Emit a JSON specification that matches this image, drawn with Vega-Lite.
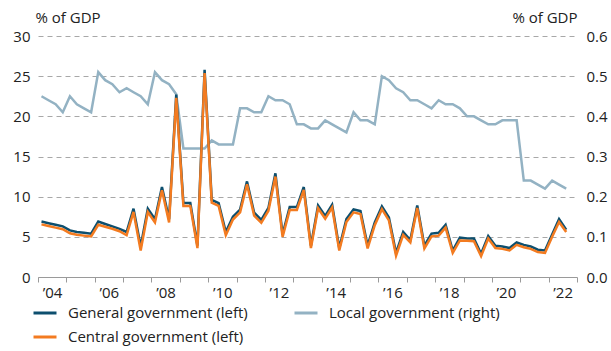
{
  "$schema": "https://vega.github.io/schema/vega-lite/v6.json",
  "width": 539,
  "height": 241,
  "autosize": {"type": "none"},
  "padding": {"left": 38, "top": 36, "right": 34, "bottom": 74},
  "background": "white",
  "config": {
    "view": {"stroke": null},
    "font": "Open Sans",
    "axis": {"labelFont": "Open Sans", "titleFont": "Open Sans", "labelFontSize": 15, "titleFontSize": 15, "labelColor": "#222222", "titleColor": "#222222", "titleFontWeight": "normal"},
    "legend": {"labelFont": "Open Sans", "labelFontSize": 15, "labelColor": "#222222", "labelLimit": 0}
  },
  "data": {"values": [
    {"date":"2004-02-15","series":"General government (left)","value":6.9},
    {"date":"2004-05-15","series":"General government (left)","value":6.7},
    {"date":"2004-08-15","series":"General government (left)","value":6.5},
    {"date":"2004-11-15","series":"General government (left)","value":6.3},
    {"date":"2005-02-15","series":"General government (left)","value":5.8},
    {"date":"2005-05-15","series":"General government (left)","value":5.6},
    {"date":"2005-08-15","series":"General government (left)","value":5.5},
    {"date":"2005-11-15","series":"General government (left)","value":5.4},
    {"date":"2006-02-15","series":"General government (left)","value":6.9},
    {"date":"2006-05-15","series":"General government (left)","value":6.6},
    {"date":"2006-08-15","series":"General government (left)","value":6.3},
    {"date":"2006-11-15","series":"General government (left)","value":6.0},
    {"date":"2007-02-15","series":"General government (left)","value":5.6},
    {"date":"2007-05-15","series":"General government (left)","value":8.5},
    {"date":"2007-08-15","series":"General government (left)","value":3.8},
    {"date":"2007-11-15","series":"General government (left)","value":8.5},
    {"date":"2008-02-15","series":"General government (left)","value":7.2},
    {"date":"2008-05-15","series":"General government (left)","value":11.2},
    {"date":"2008-08-15","series":"General government (left)","value":7.2},
    {"date":"2008-11-15","series":"General government (left)","value":22.7},
    {"date":"2009-02-15","series":"General government (left)","value":9.2},
    {"date":"2009-05-15","series":"General government (left)","value":9.2},
    {"date":"2009-08-15","series":"General government (left)","value":3.9},
    {"date":"2009-11-15","series":"General government (left)","value":25.8},
    {"date":"2010-02-15","series":"General government (left)","value":9.6},
    {"date":"2010-05-15","series":"General government (left)","value":9.2},
    {"date":"2010-08-15","series":"General government (left)","value":5.6},
    {"date":"2010-11-15","series":"General government (left)","value":7.5},
    {"date":"2011-02-15","series":"General government (left)","value":8.4},
    {"date":"2011-05-15","series":"General government (left)","value":11.9},
    {"date":"2011-08-15","series":"General government (left)","value":8.0},
    {"date":"2011-11-15","series":"General government (left)","value":7.1},
    {"date":"2012-02-15","series":"General government (left)","value":8.6},
    {"date":"2012-05-15","series":"General government (left)","value":12.9},
    {"date":"2012-08-15","series":"General government (left)","value":5.3},
    {"date":"2012-11-15","series":"General government (left)","value":8.7},
    {"date":"2013-02-15","series":"General government (left)","value":8.7},
    {"date":"2013-05-15","series":"General government (left)","value":11.2},
    {"date":"2013-08-15","series":"General government (left)","value":3.9},
    {"date":"2013-11-15","series":"General government (left)","value":8.9},
    {"date":"2014-02-15","series":"General government (left)","value":7.6},
    {"date":"2014-05-15","series":"General government (left)","value":9.0},
    {"date":"2014-08-15","series":"General government (left)","value":3.6},
    {"date":"2014-11-15","series":"General government (left)","value":7.2},
    {"date":"2015-02-15","series":"General government (left)","value":8.4},
    {"date":"2015-05-15","series":"General government (left)","value":8.2},
    {"date":"2015-08-15","series":"General government (left)","value":3.9},
    {"date":"2015-11-15","series":"General government (left)","value":6.8},
    {"date":"2016-02-15","series":"General government (left)","value":8.8},
    {"date":"2016-05-15","series":"General government (left)","value":7.4},
    {"date":"2016-08-15","series":"General government (left)","value":3.0},
    {"date":"2016-11-15","series":"General government (left)","value":5.6},
    {"date":"2017-02-15","series":"General government (left)","value":4.6},
    {"date":"2017-05-15","series":"General government (left)","value":8.9},
    {"date":"2017-08-15","series":"General government (left)","value":3.9},
    {"date":"2017-11-15","series":"General government (left)","value":5.4},
    {"date":"2018-02-15","series":"General government (left)","value":5.5},
    {"date":"2018-05-15","series":"General government (left)","value":6.5},
    {"date":"2018-08-15","series":"General government (left)","value":3.3},
    {"date":"2018-11-15","series":"General government (left)","value":4.9},
    {"date":"2019-02-15","series":"General government (left)","value":4.8},
    {"date":"2019-05-15","series":"General government (left)","value":4.8},
    {"date":"2019-08-15","series":"General government (left)","value":2.9},
    {"date":"2019-11-15","series":"General government (left)","value":5.1},
    {"date":"2020-02-15","series":"General government (left)","value":3.9},
    {"date":"2020-05-15","series":"General government (left)","value":3.8},
    {"date":"2020-08-15","series":"General government (left)","value":3.6},
    {"date":"2020-11-15","series":"General government (left)","value":4.3},
    {"date":"2021-02-15","series":"General government (left)","value":4.0},
    {"date":"2021-05-15","series":"General government (left)","value":3.8},
    {"date":"2021-08-15","series":"General government (left)","value":3.4},
    {"date":"2021-11-15","series":"General government (left)","value":3.3},
    {"date":"2022-02-15","series":"General government (left)","value":5.3},
    {"date":"2022-05-15","series":"General government (left)","value":7.2},
    {"date":"2022-08-15","series":"General government (left)","value":5.9},
    {"date":"2004-02-15","series":"Central government (left)","value":6.55},
    {"date":"2004-05-15","series":"Central government (left)","value":6.35},
    {"date":"2004-08-15","series":"Central government (left)","value":6.15},
    {"date":"2004-11-15","series":"Central government (left)","value":5.95},
    {"date":"2005-02-15","series":"Central government (left)","value":5.45},
    {"date":"2005-05-15","series":"Central government (left)","value":5.25},
    {"date":"2005-08-15","series":"Central government (left)","value":5.15},
    {"date":"2005-11-15","series":"Central government (left)","value":5.05},
    {"date":"2006-02-15","series":"Central government (left)","value":6.5},
    {"date":"2006-05-15","series":"Central government (left)","value":6.25},
    {"date":"2006-08-15","series":"Central government (left)","value":6.0},
    {"date":"2006-11-15","series":"Central government (left)","value":5.7},
    {"date":"2007-02-15","series":"Central government (left)","value":5.2},
    {"date":"2007-05-15","series":"Central government (left)","value":8.1},
    {"date":"2007-08-15","series":"Central government (left)","value":3.3},
    {"date":"2007-11-15","series":"Central government (left)","value":8.1},
    {"date":"2008-02-15","series":"Central government (left)","value":6.8},
    {"date":"2008-05-15","series":"Central government (left)","value":10.8},
    {"date":"2008-08-15","series":"Central government (left)","value":6.8},
    {"date":"2008-11-15","series":"Central government (left)","value":22.3},
    {"date":"2009-02-15","series":"Central government (left)","value":8.85},
    {"date":"2009-05-15","series":"Central government (left)","value":8.85},
    {"date":"2009-08-15","series":"Central government (left)","value":3.6},
    {"date":"2009-11-15","series":"Central government (left)","value":25.4},
    {"date":"2010-02-15","series":"Central government (left)","value":9.25},
    {"date":"2010-05-15","series":"Central government (left)","value":8.85},
    {"date":"2010-08-15","series":"Central government (left)","value":5.2},
    {"date":"2010-11-15","series":"Central government (left)","value":7.15},
    {"date":"2011-02-15","series":"Central government (left)","value":8.05},
    {"date":"2011-05-15","series":"Central government (left)","value":11.55},
    {"date":"2011-08-15","series":"Central government (left)","value":7.65},
    {"date":"2011-11-15","series":"Central government (left)","value":6.75},
    {"date":"2012-02-15","series":"Central government (left)","value":8.25},
    {"date":"2012-05-15","series":"Central government (left)","value":12.5},
    {"date":"2012-08-15","series":"Central government (left)","value":5.0},
    {"date":"2012-11-15","series":"Central government (left)","value":8.35},
    {"date":"2013-02-15","series":"Central government (left)","value":8.35},
    {"date":"2013-05-15","series":"Central government (left)","value":10.85},
    {"date":"2013-08-15","series":"Central government (left)","value":3.6},
    {"date":"2013-11-15","series":"Central government (left)","value":8.55},
    {"date":"2014-02-15","series":"Central government (left)","value":7.25},
    {"date":"2014-05-15","series":"Central government (left)","value":8.65},
    {"date":"2014-08-15","series":"Central government (left)","value":3.3},
    {"date":"2014-11-15","series":"Central government (left)","value":6.85},
    {"date":"2015-02-15","series":"Central government (left)","value":8.05},
    {"date":"2015-05-15","series":"Central government (left)","value":7.85},
    {"date":"2015-08-15","series":"Central government (left)","value":3.55},
    {"date":"2015-11-15","series":"Central government (left)","value":6.45},
    {"date":"2016-02-15","series":"Central government (left)","value":8.45},
    {"date":"2016-05-15","series":"Central government (left)","value":7.05},
    {"date":"2016-08-15","series":"Central government (left)","value":2.65},
    {"date":"2016-11-15","series":"Central government (left)","value":5.25},
    {"date":"2017-02-15","series":"Central government (left)","value":4.3},
    {"date":"2017-05-15","series":"Central government (left)","value":8.6},
    {"date":"2017-08-15","series":"Central government (left)","value":3.55},
    {"date":"2017-11-15","series":"Central government (left)","value":5.05},
    {"date":"2018-02-15","series":"Central government (left)","value":5.15},
    {"date":"2018-05-15","series":"Central government (left)","value":6.15},
    {"date":"2018-08-15","series":"Central government (left)","value":3.0},
    {"date":"2018-11-15","series":"Central government (left)","value":4.55},
    {"date":"2019-02-15","series":"Central government (left)","value":4.5},
    {"date":"2019-05-15","series":"Central government (left)","value":4.45},
    {"date":"2019-08-15","series":"Central government (left)","value":2.6},
    {"date":"2019-11-15","series":"Central government (left)","value":4.8},
    {"date":"2020-02-15","series":"Central government (left)","value":3.6},
    {"date":"2020-05-15","series":"Central government (left)","value":3.5},
    {"date":"2020-08-15","series":"Central government (left)","value":3.3},
    {"date":"2020-11-15","series":"Central government (left)","value":4.0},
    {"date":"2021-02-15","series":"Central government (left)","value":3.7},
    {"date":"2021-05-15","series":"Central government (left)","value":3.5},
    {"date":"2021-08-15","series":"Central government (left)","value":3.1},
    {"date":"2021-11-15","series":"Central government (left)","value":3.0},
    {"date":"2022-02-15","series":"Central government (left)","value":5.0},
    {"date":"2022-05-15","series":"Central government (left)","value":6.85},
    {"date":"2022-08-15","series":"Central government (left)","value":5.6},
    {"date":"2004-02-15","series":"Local government (right)","value":0.45},
    {"date":"2004-05-15","series":"Local government (right)","value":0.44},
    {"date":"2004-08-15","series":"Local government (right)","value":0.43},
    {"date":"2004-11-15","series":"Local government (right)","value":0.41},
    {"date":"2005-02-15","series":"Local government (right)","value":0.45},
    {"date":"2005-05-15","series":"Local government (right)","value":0.43},
    {"date":"2005-08-15","series":"Local government (right)","value":0.42},
    {"date":"2005-11-15","series":"Local government (right)","value":0.41},
    {"date":"2006-02-15","series":"Local government (right)","value":0.51},
    {"date":"2006-05-15","series":"Local government (right)","value":0.49},
    {"date":"2006-08-15","series":"Local government (right)","value":0.48},
    {"date":"2006-11-15","series":"Local government (right)","value":0.46},
    {"date":"2007-02-15","series":"Local government (right)","value":0.47},
    {"date":"2007-05-15","series":"Local government (right)","value":0.46},
    {"date":"2007-08-15","series":"Local government (right)","value":0.45},
    {"date":"2007-11-15","series":"Local government (right)","value":0.43},
    {"date":"2008-02-15","series":"Local government (right)","value":0.51},
    {"date":"2008-05-15","series":"Local government (right)","value":0.49},
    {"date":"2008-08-15","series":"Local government (right)","value":0.48},
    {"date":"2008-11-15","series":"Local government (right)","value":0.455},
    {"date":"2009-02-15","series":"Local government (right)","value":0.32},
    {"date":"2009-05-15","series":"Local government (right)","value":0.32},
    {"date":"2009-08-15","series":"Local government (right)","value":0.32},
    {"date":"2009-11-15","series":"Local government (right)","value":0.32},
    {"date":"2010-02-15","series":"Local government (right)","value":0.34},
    {"date":"2010-05-15","series":"Local government (right)","value":0.33},
    {"date":"2010-08-15","series":"Local government (right)","value":0.33},
    {"date":"2010-11-15","series":"Local government (right)","value":0.33},
    {"date":"2011-02-15","series":"Local government (right)","value":0.42},
    {"date":"2011-05-15","series":"Local government (right)","value":0.42},
    {"date":"2011-08-15","series":"Local government (right)","value":0.41},
    {"date":"2011-11-15","series":"Local government (right)","value":0.41},
    {"date":"2012-02-15","series":"Local government (right)","value":0.45},
    {"date":"2012-05-15","series":"Local government (right)","value":0.44},
    {"date":"2012-08-15","series":"Local government (right)","value":0.44},
    {"date":"2012-11-15","series":"Local government (right)","value":0.43},
    {"date":"2013-02-15","series":"Local government (right)","value":0.38},
    {"date":"2013-05-15","series":"Local government (right)","value":0.38},
    {"date":"2013-08-15","series":"Local government (right)","value":0.37},
    {"date":"2013-11-15","series":"Local government (right)","value":0.37},
    {"date":"2014-02-15","series":"Local government (right)","value":0.39},
    {"date":"2014-05-15","series":"Local government (right)","value":0.38},
    {"date":"2014-08-15","series":"Local government (right)","value":0.37},
    {"date":"2014-11-15","series":"Local government (right)","value":0.36},
    {"date":"2015-02-15","series":"Local government (right)","value":0.41},
    {"date":"2015-05-15","series":"Local government (right)","value":0.39},
    {"date":"2015-08-15","series":"Local government (right)","value":0.39},
    {"date":"2015-11-15","series":"Local government (right)","value":0.38},
    {"date":"2016-02-15","series":"Local government (right)","value":0.50},
    {"date":"2016-05-15","series":"Local government (right)","value":0.49},
    {"date":"2016-08-15","series":"Local government (right)","value":0.47},
    {"date":"2016-11-15","series":"Local government (right)","value":0.46},
    {"date":"2017-02-15","series":"Local government (right)","value":0.44},
    {"date":"2017-05-15","series":"Local government (right)","value":0.44},
    {"date":"2017-08-15","series":"Local government (right)","value":0.43},
    {"date":"2017-11-15","series":"Local government (right)","value":0.42},
    {"date":"2018-02-15","series":"Local government (right)","value":0.44},
    {"date":"2018-05-15","series":"Local government (right)","value":0.43},
    {"date":"2018-08-15","series":"Local government (right)","value":0.43},
    {"date":"2018-11-15","series":"Local government (right)","value":0.42},
    {"date":"2019-02-15","series":"Local government (right)","value":0.40},
    {"date":"2019-05-15","series":"Local government (right)","value":0.40},
    {"date":"2019-08-15","series":"Local government (right)","value":0.39},
    {"date":"2019-11-15","series":"Local government (right)","value":0.38},
    {"date":"2020-02-15","series":"Local government (right)","value":0.38},
    {"date":"2020-05-15","series":"Local government (right)","value":0.39},
    {"date":"2020-08-15","series":"Local government (right)","value":0.39},
    {"date":"2020-11-15","series":"Local government (right)","value":0.39},
    {"date":"2021-02-15","series":"Local government (right)","value":0.24},
    {"date":"2021-05-15","series":"Local government (right)","value":0.24},
    {"date":"2021-08-15","series":"Local government (right)","value":0.23},
    {"date":"2021-11-15","series":"Local government (right)","value":0.22},
    {"date":"2022-02-15","series":"Local government (right)","value":0.24},
    {"date":"2022-05-15","series":"Local government (right)","value":0.23},
    {"date":"2022-08-15","series":"Local government (right)","value":0.22}
  ]},
  "encoding": {
    "x": {
      "field": "date", "type": "temporal",
      "scale": {"type": "utc", "domain": [{"year": 2004, "month": 1, "date": 1, "utc": true}, {"year": 2023, "month": 1, "date": 1, "utc": true}]},
      "axis": {
        "title": null, "grid": false,
        "tickCount": {"interval": "year", "step": 1},
        "labelExpr": "utcyear(datum.value) % 2 == 0 && utcyear(datum.value) < 2023 ? '’' + substring(toString(utcyear(datum.value)), 2, 4) : ''",
        "labelOffset": 14, "labelFlush": false, "labelOverlap": false, "labelBound": false,
        "domainColor": "#9a9a9a", "tickColor": "#9a9a9a", "tickSize": 5, "labelPadding": 3
      }
    },
    "color": {
      "field": "series", "type": "nominal",
      "scale": {"domain": ["General government (left)", "Central government (left)", "Local government (right)"], "range": ["#0d4f6e", "#f37b20", "#93b2c3"]},
      "legend": {"title": null, "orient": "none", "legendX": -6, "legendY": 264, "columns": 2, "columnPadding": 40, "rowPadding": 3, "symbolType": "stroke", "symbolSize": 529, "symbolStrokeWidth": 3, "labelOffset": 10, "padding": 0}
    }
  },
  "layer": [
    {
      "transform": [{"filter": "datum.series == 'Local government (right)'"}],
      "mark": {"type": "line", "strokeWidth": 2.5},
      "encoding": {
        "y": {"field": "value", "type": "quantitative", "scale": {"domain": [0, 0.6], "nice": false},
          "axis": {"orient": "right", "values": [0, 0.1, 0.2, 0.3, 0.4, 0.5, 0.6], "format": ".1f", "grid": false, "domain": false, "ticks": false, "labelPadding": 9, "labelFlush": false,
            "title": "% of GDP", "titleAngle": 0, "titleAlign": "right", "titleBaseline": "alphabetic", "titleX": 0, "titleY": -14}}
      }
    },
    {
      "layer": [
        {
          "transform": [{"filter": "datum.series == 'General government (left)'"}],
          "mark": {"type": "line", "strokeWidth": 2.5},
          "encoding": {
            "y": {"field": "value", "type": "quantitative", "scale": {"domain": [0, 30], "nice": false},
              "axis": {"orient": "left", "values": [0, 5, 10, 15, 20, 25, 30], "grid": true, "gridDash": [5, 4], "gridColor": "#a8a8a8", "domain": false, "ticks": false, "labelPadding": 8, "labelFlush": false,
                "title": "% of GDP", "titleAngle": 0, "titleAlign": "left", "titleBaseline": "alphabetic", "titleX": -3, "titleY": -14}}
          }
        },
        {
          "transform": [{"filter": "datum.series == 'Central government (left)'"}],
          "mark": {"type": "line", "strokeWidth": 2.5},
          "encoding": {
            "y": {"field": "value", "type": "quantitative", "scale": {"domain": [0, 30], "nice": false},
              "axis": {"orient": "left", "values": [0, 5, 10, 15, 20, 25, 30], "grid": true, "gridDash": [5, 4], "gridColor": "#a8a8a8", "domain": false, "ticks": false, "labelPadding": 8, "labelFlush": false,
                "title": "% of GDP", "titleAngle": 0, "titleAlign": "left", "titleBaseline": "alphabetic", "titleX": -3, "titleY": -14}}
          }
        }
      ]
    }
  ],
  "resolve": {"scale": {"y": "independent"}}
}
